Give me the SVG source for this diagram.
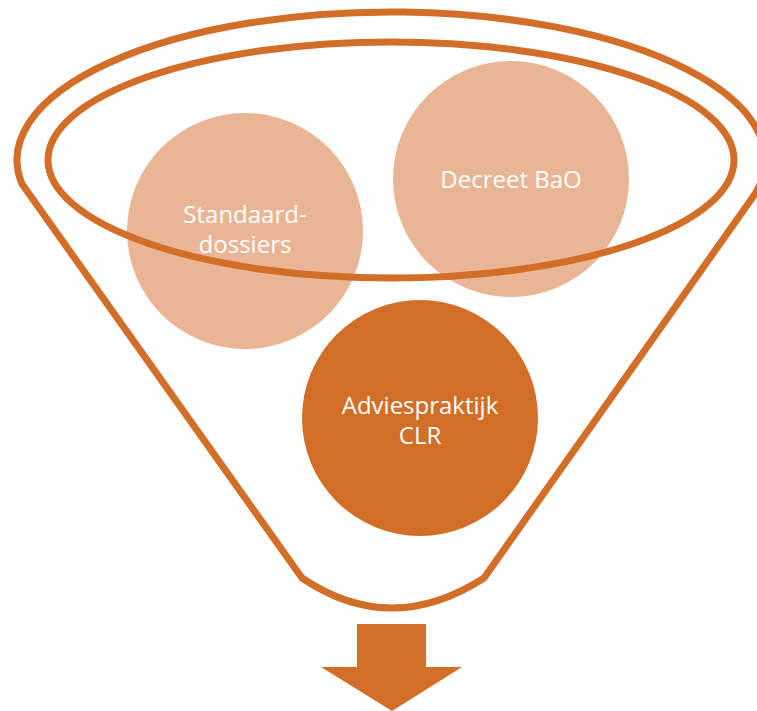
<svg xmlns="http://www.w3.org/2000/svg" width="757" height="711" viewBox="0 0 757 711">
<style>
.line{fill:none;stroke:#D36E28;stroke-width:7;stroke-linejoin:round}
.light{fill:#E9B594}
.dark{fill:#D36E28}
.lbl{font-family:"Open Sans","Liberation Sans",sans-serif;font-size:24px;fill:#FFFFFF;text-anchor:middle}
</style>
<rect width="757" height="711" fill="#FFFFFF"/>
<g id="funnel">
<path class="line" d="M 22 184 A 374 148 0 1 1 755 194 L 484 578 Q 391 638 302 578 Z"/>
</g>
<g id="standaard"><circle class="light" cx="245" cy="231" r="118"/></g>
<g id="decreet"><circle class="light" cx="511" cy="179" r="118"/></g>
<g id="advies"><circle class="dark" cx="420" cy="418" r="118"/></g>
<g id="funnel-top">
<ellipse class="line" cx="391" cy="160" rx="343" ry="118"/>
</g>
<g id="labels">
<text class="lbl" x="245" y="223">Standaard-</text>
<text class="lbl" x="245" y="253">dossiers</text>
<text class="lbl" x="511" y="188">Decreet BaO</text>
<text class="lbl" x="420" y="414">Adviespraktijk</text>
<text class="lbl" x="420" y="444">CLR</text>
</g>
<g id="arrow">
<path class="dark" d="M 357 624 L 426 624 L 426 667 L 462 667 L 392 711 L 321 667 L 357 667 Z"/>
</g>
</svg>
